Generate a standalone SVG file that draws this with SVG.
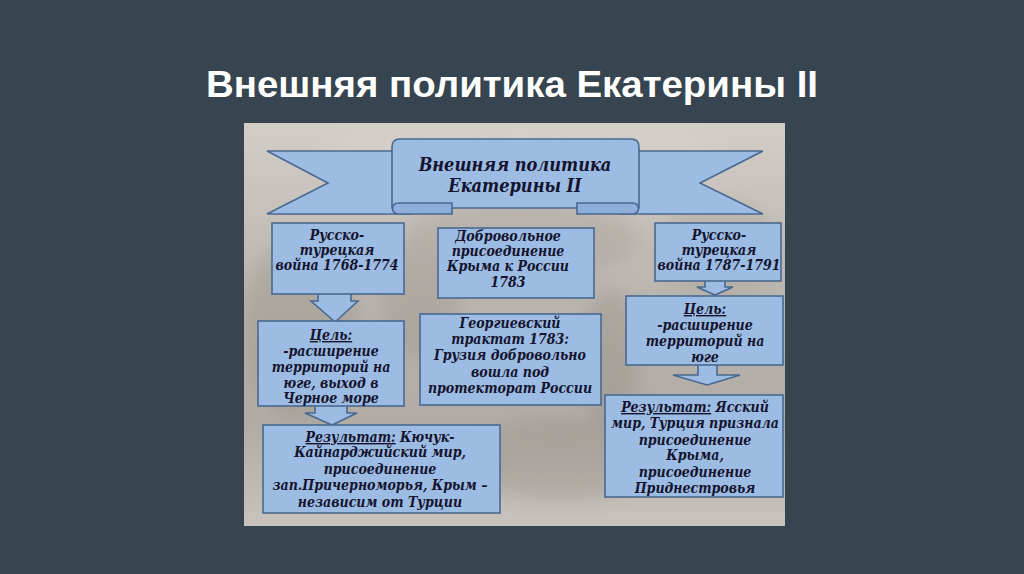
<svg xmlns="http://www.w3.org/2000/svg" width="1024" height="574" viewBox="0 0 1024 574">
  <defs>
    <linearGradient id="photo" x1="0" y1="0" x2="0" y2="1">
      <stop offset="0" stop-color="#d2cec7"/>
      <stop offset="0.45" stop-color="#b9b5ae"/>
      <stop offset="0.75" stop-color="#b0aca5"/>
      <stop offset="1" stop-color="#c8c4bd"/>
    </linearGradient>
    <filter id="blur" x="-20%" y="-20%" width="140%" height="140%">
      <feGaussianBlur stdDeviation="9"/>
    </filter>
    <clipPath id="photoClip">
      <rect x="244" y="123" width="541" height="403"/>
    </clipPath>
    <style>
      .box { fill: #9dbce4; stroke: #4a6890; stroke-width: 1.6; }
      .arrow { fill: #9dbce4; stroke: #4a6890; stroke-width: 1.6; stroke-linejoin: miter; }
      .curl { fill: #8eaedb; stroke: #4a6890; stroke-width: 1.6; }
      .t { font-family: "DejaVu Serif Condensed", "DejaVu Serif", "Liberation Serif", serif; font-stretch: condensed; font-weight: bold; font-style: italic; font-size: 14px; fill: #14142e; text-anchor: middle; }
      .big { font-size: 18px; }
      .u { text-decoration: underline; }
      .title { font-family: "Liberation Sans", Arial, sans-serif; font-weight: bold; font-size: 36px; fill: #ffffff; text-anchor: middle; }
    </style>
  </defs>

  <rect x="0" y="0" width="1024" height="574" fill="#36454f"/>
  <text class="title" x="512" y="97" textLength="612" lengthAdjust="spacingAndGlyphs">Внешняя политика Екатерины II</text>

  <g id="photo-bg" clip-path="url(#photoClip)">
    <rect x="244" y="123" width="541" height="403" fill="url(#photo)"/>
    <g filter="url(#blur)" opacity="0.3">
      <ellipse cx="300" cy="330" rx="60" ry="90" fill="#8f8a80"/>
      <ellipse cx="520" cy="240" rx="120" ry="40" fill="#9a958c"/>
      <ellipse cx="560" cy="460" rx="90" ry="40" fill="#8c877e"/>
      <ellipse cx="720" cy="250" rx="60" ry="50" fill="#a29d94"/>
      <ellipse cx="420" cy="300" rx="40" ry="60" fill="#928d84"/>
      <ellipse cx="610" cy="360" rx="30" ry="70" fill="#8a857c"/>
      <ellipse cx="520" cy="150" rx="200" ry="20" fill="#e0dcd4"/>
    </g>
  </g>

  <g id="banner">
    <path class="box" d="M267,151 L410,151 L410,214 L267,214 L328,183 Z"/>
    <path class="box" d="M763,151 L620,151 L620,214 L763,214 L700,183 Z"/>
    <path class="box" d="M392,208 L392,147 Q392,139 400,139 L631,139 Q639,139 639,147 L639,208 Z"/>
    <path class="curl" d="M452,203 L398,203 A5.5,5.5 0 0 0 398,214 L452,214 Z"/>
    <path class="curl" d="M577,203 L633,203 A5.5,5.5 0 0 1 633,214 L577,214 Z"/>
    <text class="t big" x="515" y="171">Внешняя политика</text>
    <text class="t big" x="515" y="192">Екатерины II</text>
  </g>

  <g id="connectors">
    <path class="arrow" d="M318,294 L318,301 L311,301 L335,322 L358,301 L351,301 L351,294"/>
    <path class="arrow" d="M315,406 L315,413 L305,413 L332,425 L357,413 L347,413 L347,406"/>
    <path class="arrow" d="M705,281 L705,287 L697,287 L715,295 L733,287 L725,287 L725,281"/>
    <path class="arrow" d="M698,365 L698,375 L673,375 L707,385 L740,375 L717,375 L717,365"/>
  </g>

  <g id="war1">
    <rect class="box" x="272" y="223" width="132" height="71"/>
    <text class="t" x="337" y="240">Русско-</text>
    <text class="t" x="337" y="255">турецкая</text>
    <text class="t" x="337" y="270">война 1768-1774</text>
  </g>

  <g id="crimea">
    <rect class="box" x="438" y="228" width="156" height="70"/>
    <text class="t" x="508" y="241">Добровольное</text>
    <text class="t" x="508" y="256">присоединение</text>
    <text class="t" x="508" y="271">Крыма к России</text>
    <text class="t" x="508" y="287">1783</text>
  </g>

  <g id="war2">
    <rect class="box" x="655" y="223" width="126" height="58"/>
    <text class="t" x="719" y="240">Русско-</text>
    <text class="t" x="719" y="255">турецкая</text>
    <text class="t" x="719" y="270">война 1787-1791</text>
  </g>

  <g id="goal1">
    <rect class="box" x="258" y="321" width="146" height="85"/>
    <text class="t" x="331" y="340"><tspan class="u">Цель:</tspan></text>
    <text class="t" x="331" y="356">-расширение</text>
    <text class="t" x="331" y="372">территорий на</text>
    <text class="t" x="331" y="388">юге, выход в</text>
    <text class="t" x="331" y="403">Черное море</text>
  </g>

  <g id="georgia">
    <rect class="box" x="420" y="314" width="181" height="91"/>
    <text class="t" x="510" y="328">Георгиевский</text>
    <text class="t" x="510" y="344">трактат 1783:</text>
    <text class="t" x="510" y="360">Грузия добровольно</text>
    <text class="t" x="510" y="377">вошла под</text>
    <text class="t" x="510" y="393">протекторат России</text>
  </g>

  <g id="goal2">
    <rect class="box" x="626" y="296" width="157" height="69"/>
    <text class="t" x="705" y="314"><tspan class="u">Цель:</tspan></text>
    <text class="t" x="705" y="330">-расширение</text>
    <text class="t" x="705" y="346">территорий на</text>
    <text class="t" x="705" y="362">юге</text>
  </g>

  <g id="result1">
    <rect class="box" x="263" y="425" width="237" height="88"/>
    <text class="t" x="380" y="442"><tspan class="u">Результат:</tspan> Кючук-</text>
    <text class="t" x="380" y="457">Кайнарджийский мир,</text>
    <text class="t" x="380" y="474">присоединение</text>
    <text class="t" x="380" y="490">зап.Причерноморья, Крым –</text>
    <text class="t" x="380" y="507">независим от Турции</text>
  </g>

  <g id="result2">
    <rect class="box" x="605" y="395" width="178" height="102"/>
    <text class="t" x="695" y="412"><tspan class="u">Результат:</tspan> Ясский</text>
    <text class="t" x="695" y="428">мир, Турция признала</text>
    <text class="t" x="695" y="445">присоединение</text>
    <text class="t" x="695" y="460">Крыма,</text>
    <text class="t" x="695" y="477">присоединение</text>
    <text class="t" x="695" y="493">Приднестровья</text>
  </g>
</svg>
